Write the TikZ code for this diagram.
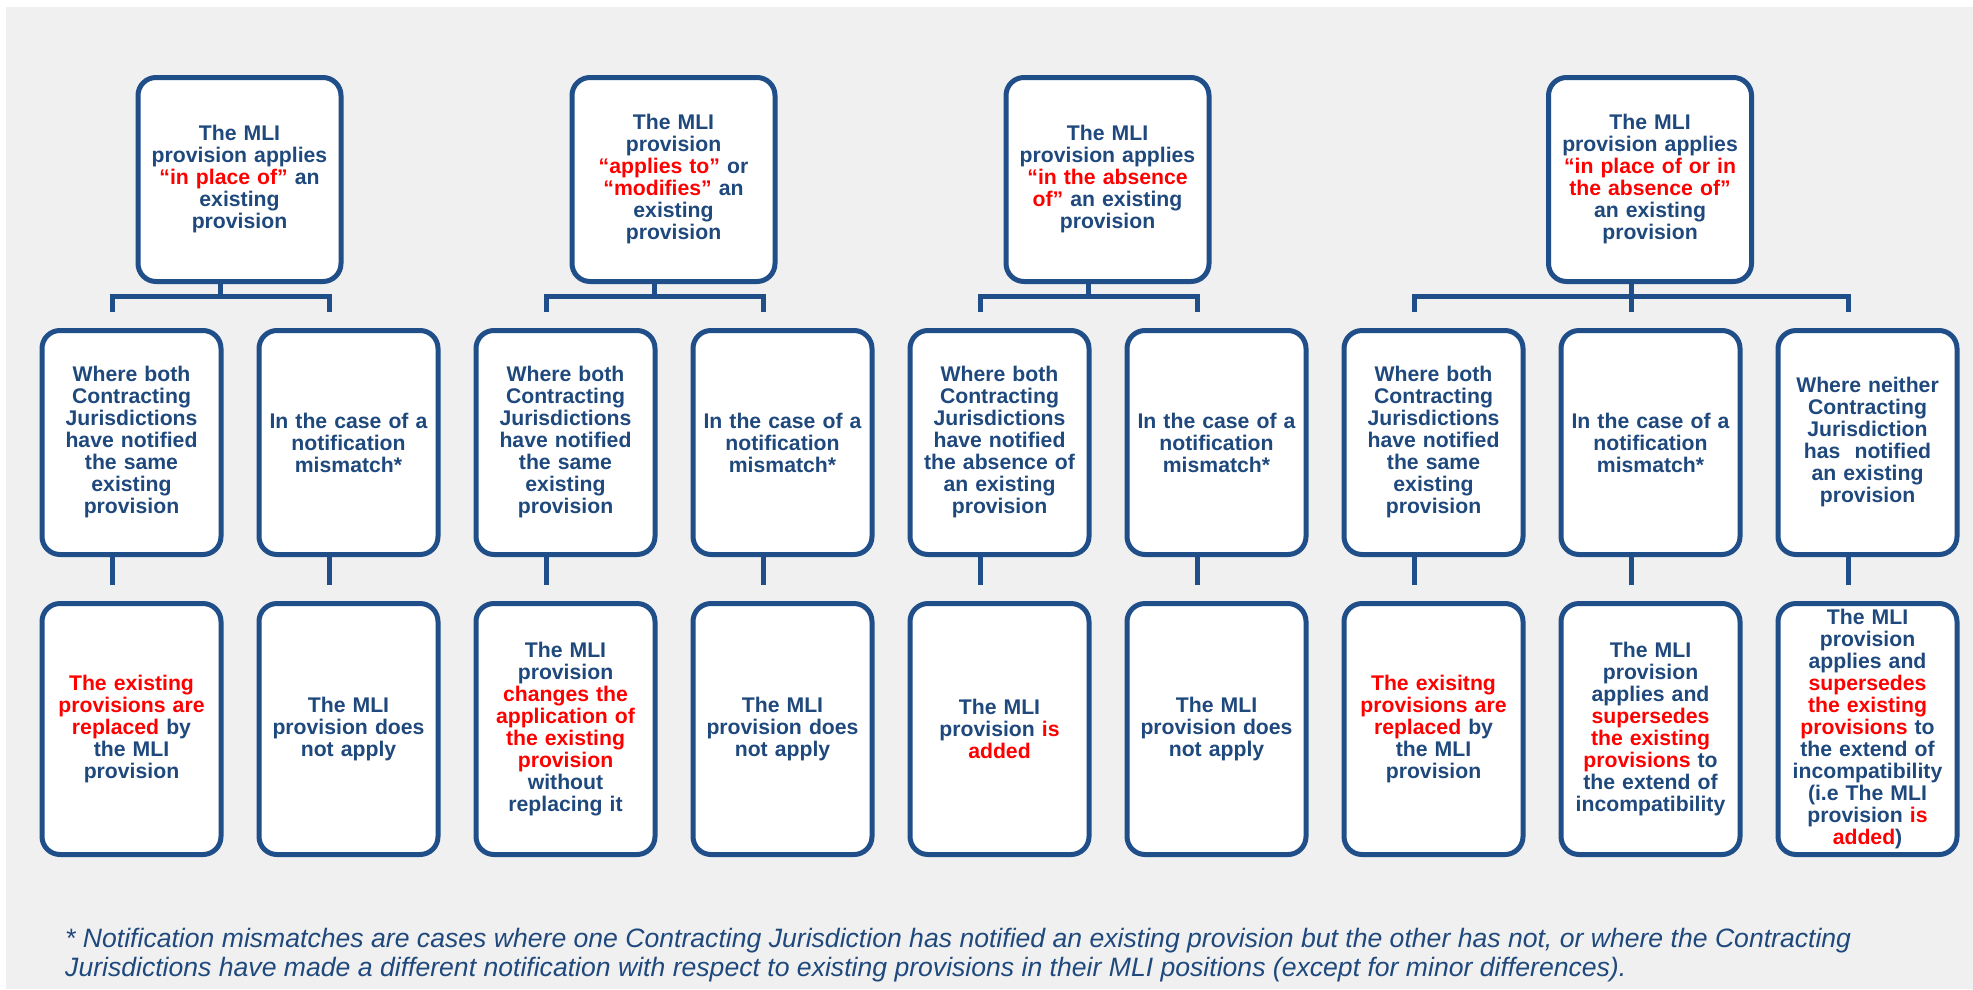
\documentclass[tikz,border=0pt]{standalone}
\usepackage{fontspec}
\setmainfont{Liberation Sans}
\definecolor{txtblue}{HTML}{1F497D}
\definecolor{linblue}{HTML}{1F4E89}
\definecolor{bggray}{HTML}{F0F0F0}
\definecolor{hired}{HTML}{FF0000}
\newcommand{\redtxt}[1]{\textcolor{hired}{#1}}
\begin{document}
\begin{tikzpicture}[x=1pt,y=-1pt,
  box/.style={draw=linblue, line width=5pt, fill=white, rounded corners=18pt, outer sep=0pt, inner sep=2pt, align=center, text=txtblue, font=\bfseries\fontsize{21.2}{22}\selectfont},
  topbox/.style={box, minimum width=203pt, minimum height=204pt, text width=197pt},
  midbox/.style={box, minimum width=179pt, minimum height=224pt, text width=173pt},
  botbox/.style={box, minimum width=179pt, minimum height=251pt, text width=173pt},
  conn/.style={draw=linblue, line width=5pt, line join=miter}
]
\useasboundingbox (0,0) rectangle (1973,989);
\fill[white] (0,0) rectangle (1973,989);
\fill[bggray] (6,7) rectangle (1973,989);

% top boxes
\node[topbox] (T1) at (239.5,179.5) {The MLI\\provision applies\\\redtxt{“in place of”} an\\existing\\provision};
\node[topbox] (T2) at (673.5,179.5) {The MLI\\provision\\\redtxt{“applies to”} or\\\redtxt{“modifies”} an\\existing\\provision};
\node[topbox] (T3) at (1107.5,179.5) {The MLI\\provision applies\\\redtxt{“in the absence\\of”} an existing\\provision};
\node[topbox] (T4) at (1650,179.5) {The MLI\\provision applies\\\redtxt{“in place of or in\\the absence of”}\\an existing\\provision};

% middle boxes
\node[midbox] (M1) at (131.5,442.5) {Where both\\Contracting\\Jurisdictions\\have notified\\the same\\existing\\provision};
\node[midbox] (M2) at (348.5,442.5) {In the case of a\\notification\\mismatch*};
\node[midbox] (M3) at (565.5,442.5) {Where both\\Contracting\\Jurisdictions\\have notified\\the same\\existing\\provision};
\node[midbox] (M4) at (782.5,442.5) {In the case of a\\notification\\mismatch*};
\node[midbox] (M5) at (999.5,442.5) {Where both\\Contracting\\Jurisdictions\\have notified\\the absence of\\an existing\\provision};
\node[midbox] (M6) at (1216.5,442.5) {In the case of a\\notification\\mismatch*};
\node[midbox] (M7) at (1433.5,442.5) {Where both\\Contracting\\Jurisdictions\\have notified\\the same\\existing\\provision};
\node[midbox] (M8) at (1650.5,442.5) {In the case of a\\notification\\mismatch*};
\node[midbox] (M9) at (1867.5,442.5) {Where neither\\Contracting\\Jurisdiction\\has\ \ notified\\an existing\\provision};

% bottom boxes
\node[botbox] (B1) at (131.5,729) {\redtxt{The existing\\provisions are\\replaced} by\\the MLI\\provision};
\node[botbox] (B2) at (348.5,729) {The MLI\\provision does\\not apply};
\node[botbox] (B3) at (565.5,729) {The MLI\\provision\\\redtxt{changes the\\application of\\the existing\\provision}\\without\\replacing it};
\node[botbox] (B4) at (782.5,729) {The MLI\\provision does\\not apply};
\node[botbox] (B5) at (999.5,729) {The MLI\\provision \redtxt{is\\added}};
\node[botbox] (B6) at (1216.5,729) {The MLI\\provision does\\not apply};
\node[botbox] (B7) at (1433.5,729) {\redtxt{The exisitng\\provisions are\\replaced} by\\the MLI\\provision};
\node[botbox] (B8) at (1650.5,729) {The MLI\\provision\\applies and\\\redtxt{supersedes\\the existing\\provisions} to\\the extend of\\incompatibility};
\node[botbox] (B9) at (1867.5,729) {The MLI\\provision\\applies and\\\redtxt{supersedes\\the existing\\provisions} to\\the extend of\\incompatibility\\(i.e The MLI\\provision \redtxt{is\\added})};

% top -> middle forks
\foreach \t/\m in {T1/M1,T1/M2,T2/M3,T2/M4,T3/M5,T3/M6,T4/M7,T4/M8,T4/M9}{
  \draw[conn] ([xshift=-19pt]\t.south) -- ++(0,15) -| ([xshift=-19pt,yshift=18.5pt]\m.north);
}
% middle -> bottom
\foreach \m/\b in {M1/B1,M2/B2,M3/B3,M4/B4,M5/B5,M6/B6,M7/B7,M8/B8,M9/B9}{
  \draw[conn] ([xshift=-19pt]\m.south) -- ([xshift=-19pt,yshift=18.5pt]\b.north);
}

% footnote
\node[anchor=north west, inner sep=0pt, align=left, text=txtblue, font=\itshape\fontsize{26.6}{29.5}\selectfont] (note) at (65,928) {* Notification mismatches are cases where one Contracting Jurisdiction has notified an existing provision but the other has not, or where the Contracting\\Jurisdictions have made a different notification with respect to existing provisions in their MLI positions (except for minor differences).};
\end{tikzpicture}
\end{document}
